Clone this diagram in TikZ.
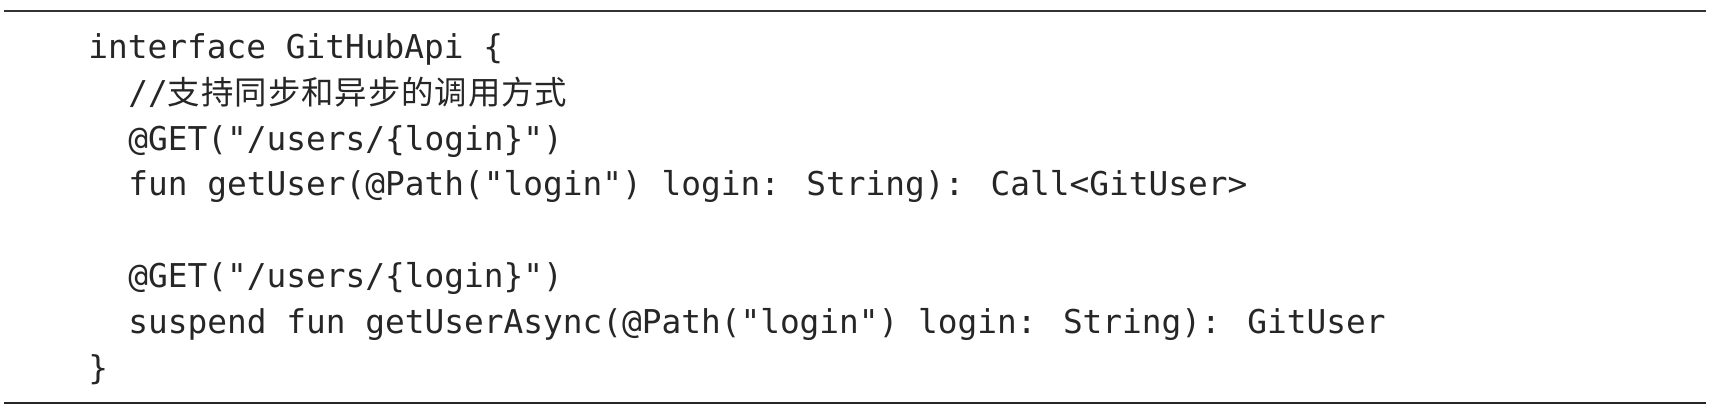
\documentclass[tikz,border=0pt]{standalone}
\usepackage{fontspec}
\usepackage{tikz}
\newfontfamily\codefont{DejaVu Sans Mono}
\newfontfamily\cjk[LetterSpace=3]{Noto Sans CJK SC}

\begin{document}
\begin{tikzpicture}[x=0.5pt, y=-0.5pt,
    code/.style={anchor=base west, inner sep=0pt, text=black!85,
      font=\codefont\fontsize{16.4}{20}\selectfont}]
    \useasboundingbox (0,0) rectangle (1719,419);
    % 上下の罫線
    \draw[line width=1pt, black!80] (4,10.5)--(1706,10.5);
    \draw[line width=1.35pt, black!85] (4,403)--(1706,403);
    % コード
    \node[code] (l1) at (88,58) {interface GitHubApi \{};
    \node[code] (l2) at (128,104) {//{\cjk\fontsize{16.2}{20}\selectfont 支持同步和异步的调用方式}};
    \node[code] (l3) at (128,150) {@GET("/users/\{login\}")};
    \node[code] (l4) at (128,195) {fun getUser(@Path("login") login: String): Call<GitUser>};
    \node[code] (l6) at (128,287) {@GET("/users/\{login\}")};
    \node[code] (l7) at (128,333) {suspend fun getUserAsync(@Path("login") login: String): GitUser};
    \node[code] (l8) at (88,379) {\}};%閉じ括弧
\end{tikzpicture}
\end{document}
